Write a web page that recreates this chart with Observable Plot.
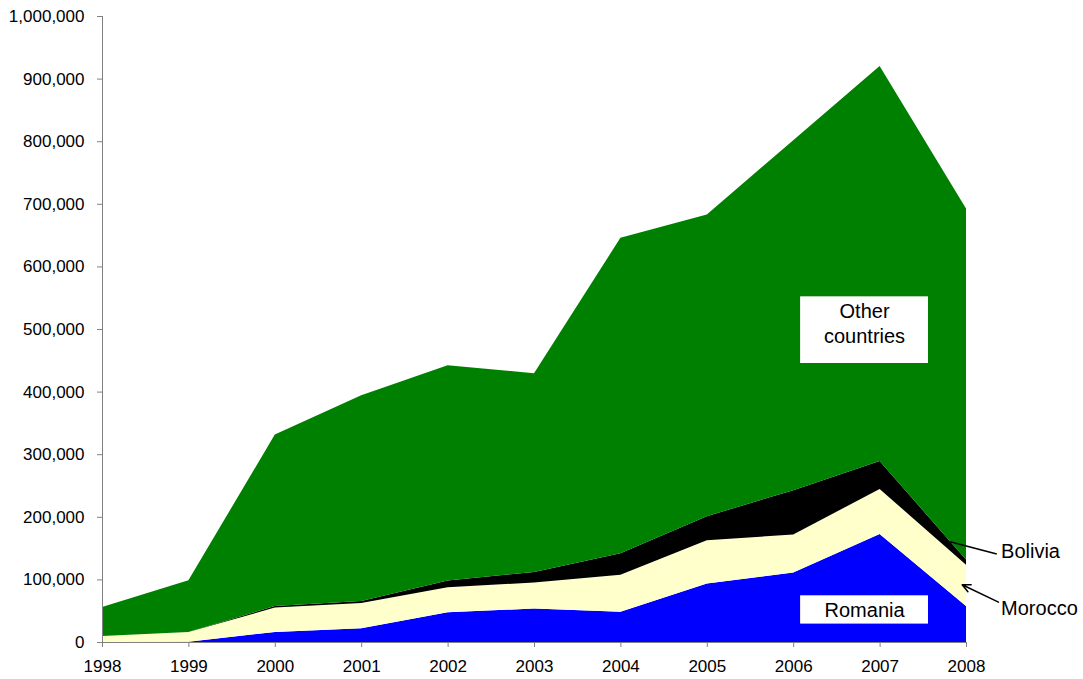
<!DOCTYPE html>
<html>
<head>
<meta charset="utf-8">
<script src="https://cdn.jsdelivr.net/npm/d3@7"></script>
<script src="https://cdn.jsdelivr.net/npm/@observablehq/plot@0.6"></script>
<style>
  html, body { margin: 0; padding: 0; background: #fff; }
  #chart { width: 1083px; height: 679px; }
</style>
</head>
<body>
<div id="chart"></div>
<script>
// ---- data ----
const years = [1998, 1999, 2000, 2001, 2002, 2003, 2004, 2005, 2006, 2007, 2008];
const countries = ["Romania", "Morocco", "Bolivia", "Other countries"];
const colors = ["#0000FF", "#FFFFCC", "#000000", "#008000"];
const romania = [0, 500, 16000, 22000, 47500, 53500, 48500, 93500, 111000, 172500, 57500];
const morocco = [9600, 15500, 39000, 40400, 40000, 41500, 59100, 69200, 60700, 71900, 66100];
const bolivia = [0, 0, 2500, 3200, 10700, 16900, 34000, 38300, 70700, 44700, 8000];
const other = [46300, 82600, 273800, 328600, 343900, 317400, 504100, 481800, 559100, 630900, 560900];
const yTicks = [0, 100000, 200000, 300000, 400000, 500000, 600000, 700000, 800000, 900000, 1000000];

// annotation boxes & labels (data units)
const boxes = [
  {x1: 2006.08, x2: 2007.56, y1: 445700, y2: 552200},
  {x1: 2006.08, x2: 2007.56, y1: 29400, y2: 74600}
];
const boxLabels = [
  {x: 2006.82, y: 511000, text: "Other\ncountries"},
  {x: 2006.82, y: 53000, text: "Romania"}
];
const sideLabels = [
  {x: 2008.40, y: 145500, text: "Bolivia"},
  {x: 2008.40, y: 54500, text: "Morocco"}
];
const boliviaLine = [{x1: 2008.35, y1: 141500, x2: 2007.81, y2: 161000}];
const moroccoArrow = [{x1: 2008.37, y1: 64500, x2: 2007.95, y2: 92200}];

// ---- build table ----
const series = [romania, morocco, bolivia, other];
const rows = [];
countries.forEach((c, i) => {
  years.forEach((y, j) => rows.push({year: y, country: c, value: series[i][j]}));
});

const chart = Plot.plot({
  width: 1083,
  height: 679,
  marginLeft: 102,
  marginRight: 117,
  marginTop: 16,
  marginBottom: 37,
  style: {fontFamily: "'Liberation Sans', Arial, sans-serif", fontSize: "17px", color: "#000", background: "#fff"},
  x: {domain: [1998, 2008]},
  y: {domain: [0, 1000000]},
  color: {domain: countries, range: colors},
  marks: [
    Plot.areaY(rows, {x: "year", y: "value", z: "country", fill: "country", order: countries}),
    Plot.ruleX([1998], {stroke: "#808080"}),
    Plot.ruleY([0], {stroke: "#808080"}),
    Plot.axisY({ticks: yTicks, tickSize: 5, tickPadding: 13, tickFormat: d3.format(","), stroke: "#808080", fill: "#000", label: null}),
    Plot.axisX({ticks: years, tickSize: 5, tickPadding: 12, tickFormat: "d", stroke: "#808080", fill: "#000", label: null}),
    Plot.rect(boxes, {x1: "x1", x2: "x2", y1: "y1", y2: "y2", fill: "white"}),
    Plot.text(boxLabels, {x: "x", y: "y", text: "text", fontSize: 20, lineHeight: 1.25, textAnchor: "middle", lineAnchor: "middle", fill: "#000"}),
    Plot.text(sideLabels, {x: "x", y: "y", text: "text", fontSize: 20, textAnchor: "start", lineAnchor: "middle", fill: "#000"}),
    Plot.link(boliviaLine, {x1: "x1", y1: "y1", x2: "x2", y2: "y2", stroke: "#000", strokeWidth: 1.5}),
    Plot.arrow(moroccoArrow, {x1: "x1", y1: "y1", x2: "x2", y2: "y2", stroke: "#000", strokeWidth: 1.5, headLength: 9, headAngle: 50})
  ]
});
document.getElementById("chart").appendChild(chart);
</script>
</body>
</html>
